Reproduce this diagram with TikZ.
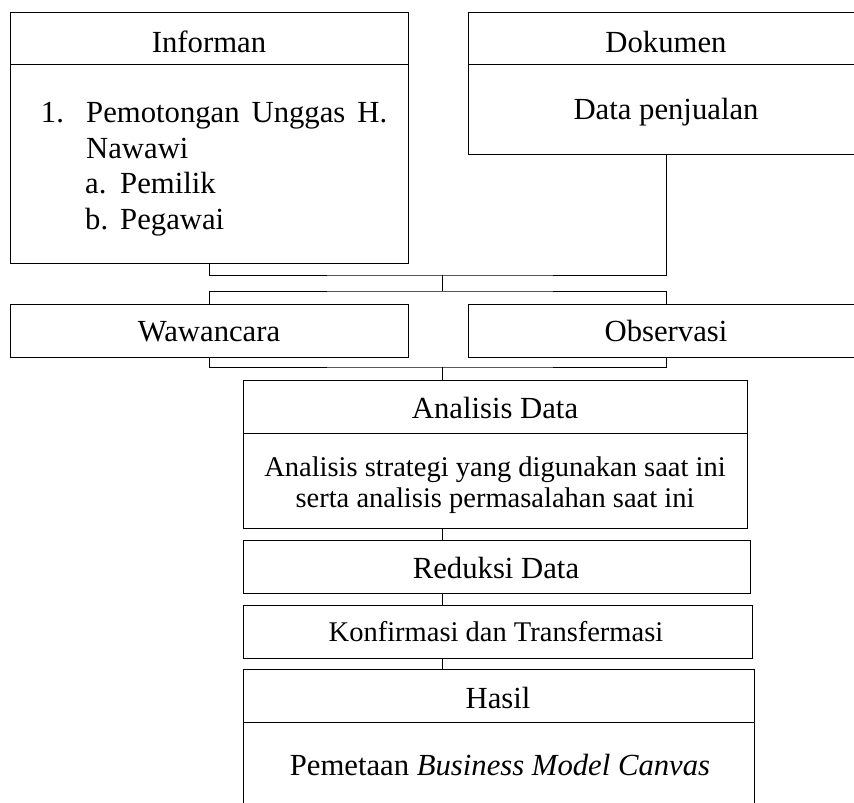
\documentclass[tikz,border=0pt]{standalone}
\usepackage{fontspec}
\setmainfont{Liberation Serif}
\begin{document}
\begin{tikzpicture}[x=1pt,y=-1pt,
  box/.style={draw, line width=0.9pt, rectangle, inner sep=0pt},
  lbl/.style={anchor=base, inner sep=0pt, font=\fontsize{30.7}{36}\selectfont},
  lbls/.style={anchor=base, inner sep=0pt, font=\fontsize{28.5}{33}\selectfont},
  link/.style={line width=0.9pt}]
\path[use as bounding box] (0,0) rectangle (854,803);
\clip (0,0) rectangle (854,803);
% boxes
\node[box, minimum width=398, minimum height=52] (infoH) at (209,38) {};
\node[box, minimum width=398, minimum height=199] (infoB) at (209,163.5) {};
\node[box, minimum width=397, minimum height=52] (dokH) at (666.5,38) {};
\node[box, minimum width=397, minimum height=90] (dokB) at (666.5,109) {};
\node[box, minimum width=398, minimum height=53] (waw) at (209,330.5) {};
\node[box, minimum width=397, minimum height=53] (obs) at (666.5,330.5) {};
\node[box, minimum width=504, minimum height=53] (anH) at (495,406.5) {};
\node[box, minimum width=504, minimum height=95] (anB) at (495,480.5) {};
\draw[line width=1.6pt] (anH.south west) -- (anH.south east);
\node[box, minimum width=507, minimum height=53] (red) at (496.5,566.5) {};
\node[box, minimum width=509, minimum height=53] (kon) at (497.5,631.5) {};
\node[box, minimum width=511, minimum height=53] (hasH) at (498.5,695.5) {};
\node[box, minimum width=511, minimum height=110] (hasB) at (498.5,777) {};
% connectors
\coordinate (j1) at (442,275);
\coordinate (j2) at (442,291);
\coordinate (j3) at (442,367);
\draw[link] (infoB.south) |- (j1) -| (dokB.south);
\draw[link] (j1) -- (j2);
\draw[link] (waw.north) |- (j2) -| (obs.north);
\draw[link] (waw.south) |- (j3) -| (obs.south);
\draw[link] (j3) -- (j3 |- anH.north);
\draw[link] (j3 |- anB.south) -- (j3 |- red.north);
\draw[link] (j3 |- red.south) -- (j3 |- kon.north);
\draw[link] (j3 |- kon.south) -- (j3 |- hasH.north);
% texts
\node[lbl] (tInf) at (209,52) {Informan};
\node[lbl] (tDok) at (666,52) {Dokumen};
\node[lbl, anchor=base west] (n1) at (40.7,122.7) {1.};
\node[lbl, anchor=base west] (l1) at (86,122.7) {\makebox[301pt][s]{Pemotongan Unggas H.}};
\node[lbl, anchor=base west] (l2) at (86,158) {Nawawi};
\node[lbl, anchor=base west] (na) at (85,193) {a.};
\node[lbl, anchor=base west] (la) at (120,193) {Pemilik};
\node[lbl, anchor=base west] (nb) at (85,229) {b.};
\node[lbl, anchor=base west] (lb) at (120,229) {Pegawai};
\node[lbl] (tData) at (666,119) {Data penjualan};
\node[lbl] (tWaw) at (209,341.7) {Wawancara};
\node[lbl] (tObs) at (666,341.7) {Observasi};
\node[lbl] (tAn) at (495,418) {Analisis Data};
\node[lbls] (tAn1) at (495,476) {Analisis strategi yang digunakan saat ini};
\node[lbls] (tAn2) at (495,507) {serta analisis permasalahan saat ini};
\node[lbl] (tRed) at (496,578) {Reduksi Data};
\node[lbls] (tKon) at (496,641.7) {Konfirmasi dan Transfermasi};
\node[lbl] (tHas) at (498,708) {Hasil};
\node[lbl] (tPem) at (500,775) {Pemetaan \textit{Business Model Canvas}};
\end{tikzpicture}
\end{document}
